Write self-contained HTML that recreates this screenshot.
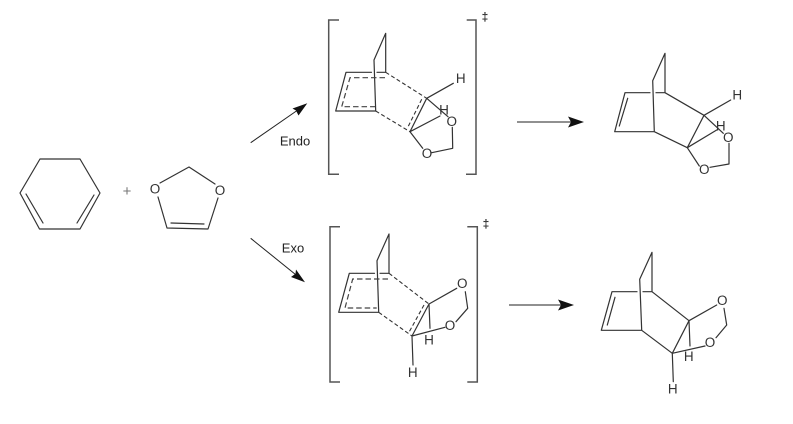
<!DOCTYPE html>
<html>
<head>
<meta charset="utf-8">
<style>
html,body{margin:0;padding:0;background:#fff;width:793px;height:424px;overflow:hidden}
svg{display:block}
.b{fill:none;stroke:#333;stroke-width:1.2;stroke-linecap:round;stroke-linejoin:round}
.d{fill:none;stroke:#333;stroke-width:1.1;stroke-dasharray:4 2.5}
.r{fill:none;stroke:#444;stroke-width:1.2;stroke-dasharray:5.500 3}
.k{fill:none;stroke:#555;stroke-width:1.5}
.a{fill:none;stroke:#222;stroke-width:1}
text{font-family:"Liberation Sans",sans-serif;font-size:13.500px;fill:#333;text-anchor:middle;dominant-baseline:central}
.l{font-size:13px;fill:#222}
.s{font-size:12px;font-weight:bold}
</style>
</head>
<body>
<svg width="793" height="424" viewBox="0 0 793 424">
<!-- cyclohexadiene -->
<path class="b" d="M40 159H80L100 193L80 229H39.500L20 193Z"/>
<path class="b" d="M26 194L43 223M94 195L77 223"/>
<text x="127" y="191.500" style="font-size:15px;fill:#777">+</text>
<!-- dioxole -->
<path class="b" d="M160 183L189 167L215 184M158 197L167 228L208 229L218 198M171 223L204 224"/>
<text x="155" y="189">O</text><text x="220" y="190.500">O</text>
<!-- arrows -->
<path class="a" d="M250.700 142.700L300 108.500"/><path d="M307.300 103.300L292.500 108.500L296 110.500L298.500 115.500Z" fill="#111"/>
<path class="a" d="M250.700 238.300L298 276.500"/><path d="M305 282.300L296 269.500L295.500 273.800L291 277Z" fill="#111"/>
<path class="a" d="M517 122H572"/><path d="M584 122L568 116.500L571 122L568 127.500Z" fill="#111"/>
<path class="a" d="M509 305H562"/><path d="M574 305L558 299.500L561 305L558 310.500Z" fill="#111"/>
<text class="l" x="295" y="141">Endo</text>
<text class="l" x="293" y="248">Exo</text>
<!-- brackets -->
<path class="k" d="M339 20H328.700V174.300H339M466.700 20H476V174.300H466"/>
<text class="s" x="485" y="17">‡</text>
<path class="k" d="M340 226.700H330V382H340M467.300 226.700H477.300V382H467.300"/>
<text class="s" x="486" y="224">‡</text>
<!-- Endo TS -->
<path class="b" d="M385.700 72.300V33.300L374 60L375.700 111H335.700L346 72.300H371.500M377 72.300H385.700"/>
<path class="r" d="M385 77.700H350L341.700 106.700H375"/>
<path class="d" d="M385.700 72.300L426.700 98.300M375.700 111L410 131.700M421.700 99.300L407.300 128.300"/>
<path class="b" d="M426.700 98.300L410 131.700M426.700 98.300L453.300 83.300M426.700 98.300L448 116.700M410 131.700L440 116M410 131.700L422.700 148.300M431.700 152.700L452.700 148.300L452.300 127.300"/>
<text x="460.700" y="78.700">H</text><text x="444" y="110">H</text>
<text x="451.700" y="121.700">O</text><text x="427" y="153.300">O</text>
<!-- Exo TS -->
<path class="b" d="M389 273.300V234L377 260.700L378.700 312.300H338.700L349.300 273.300H374.500M380 273.300H389"/>
<path class="r" d="M388 279H352.700L345 308H376.700"/>
<path class="d" d="M389 273.300L429 304M378.700 312.300L412 336M424 305L409.300 331.700"/>
<path class="b" d="M429 304L412 336M429 304L456.700 288.300M465.300 291.700L467.700 308.300L456 321.700M412 336L445 327.300M429 304L430 328.300M412 336L413 365"/>
<text x="462.300" y="283.300">O</text><text x="450" y="325.700">O</text>
<text x="429" y="340">H</text><text x="412.700" y="372.300">H</text>
<!-- Endo product -->
<path class="b" d="M665 92.700V53.300L652.700 80.700L654.300 131.700H614.700L625 92.700H650M656 92.700H665L704 115.300L687.300 147.700L654.300 131.700M627.700 98.300L619.300 126"/>
<path class="b" d="M704 115.300L730.700 100M704 115.300L723.300 133.300M687.300 147.700L716.700 130M687.300 147.700L699.300 166M710 167.300L729 164L729 143.300"/>
<text x="737.300" y="95">H</text><text x="720.700" y="126">H</text>
<text x="728.300" y="137.700">O</text><text x="704.300" y="169.300">O</text>
<!-- Exo product -->
<path class="b" d="M652 291.700V252.300L639.700 279.300L641.700 330.300H601.300L612 291.700H637M643 291.700H652L689 320.700L672.300 353.300L641.700 330.300M615 297.300L607.300 325"/>
<path class="b" d="M689 320.700L716.700 305M724 308.300L726.700 325L716 337.700M672.300 353.300L705 346M689 320.700L690 346M672.300 353.300L673.300 381.700"/>
<text x="722.300" y="300.300">O</text><text x="710" y="342.700">O</text>
<text x="688.700" y="356.700">H</text><text x="672.700" y="389">H</text>
</svg>
</body>
</html>
